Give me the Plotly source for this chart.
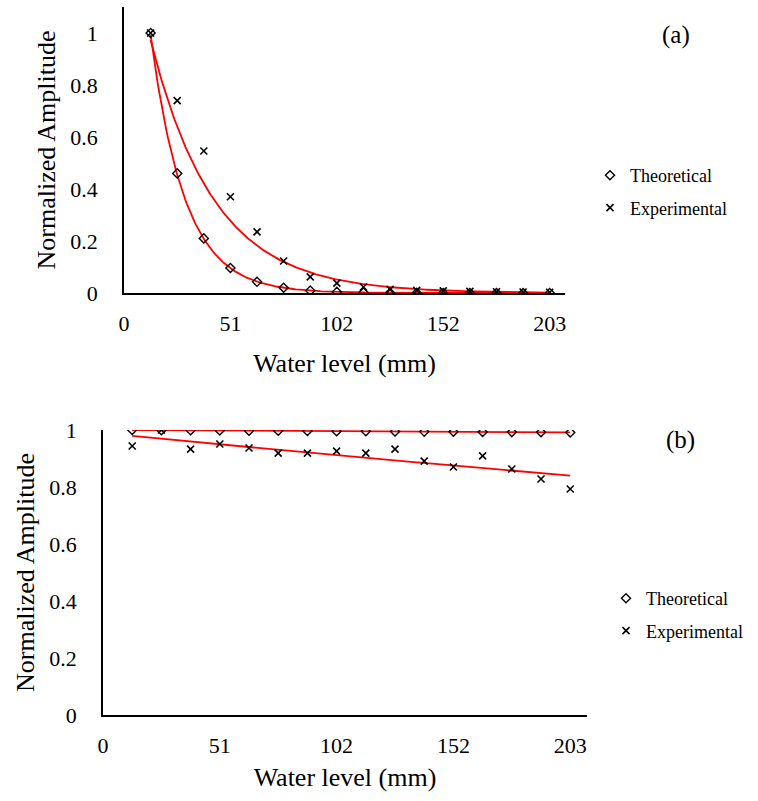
import numpy as np
import plotly.graph_objects as go

# Water level positions (mm) shared by both panels
water_level_mm = [12.7, 25.4, 38.1, 50.8, 63.5, 76.2, 88.9, 101.6,
                  114.3, 127.0, 139.7, 152.4, 165.1, 177.8, 190.5, 203.2]

# Panel (a)
theoretical_a = [1.0, 0.46, 0.21, 0.096, 0.043, 0.020, 0.0091, 0.0042,
                 0.0019, 0.00088, 0.00040, 0.00018, 0.000085, 0.000039,
                 0.000018, 0.0000082]
experimental_a = [1.0, 0.74, 0.546, 0.37, 0.235, 0.123, 0.062, 0.038,
                  0.023, 0.014, 0.010, 0.008, 0.006, 0.005, 0.004, 0.003]

# Panel (b)
theoretical_b = [1.0, 0.9995, 0.9989, 0.9983, 0.9977, 0.9972, 0.9966, 0.9960,
                 0.9954, 0.9949, 0.9943, 0.9937, 0.9931, 0.9926, 0.9920, 0.9914]
experimental_b = [0.944, 1.0, 0.933, 0.951, 0.937, 0.919, 0.919, 0.926,
                  0.919, 0.933, 0.891, 0.870, 0.909, 0.863, 0.828, 0.793]

x_tick_vals = [0, 50.8, 101.6, 152.4, 203.2]
x_tick_text = ["0", "51", "102", "152", "203"]
y_tick_vals = [0, 0.2, 0.4, 0.6, 0.8, 1.0]
y_tick_text = ["0", "0.2", "0.4", "0.6", "0.8", "1"]

SERIF = "Liberation Serif, Times New Roman, serif"
RED = "#ff0000"


def exp_trend(x, y, n=300):
    """Least-squares exponential trendline y = A*exp(B*x) over the data span."""
    x = np.asarray(x, dtype=float)
    y = np.asarray(y, dtype=float)
    b, a = np.polyfit(x, np.log(y), 1)
    xf = np.linspace(x.min(), x.max(), n)
    return xf, np.exp(a) * np.exp(b * xf)


fig = go.Figure()

panels = [
    ("x", "y", "legend", theoretical_a, experimental_a),
    ("x2", "y2", "legend2", theoretical_b, experimental_b),
]

for xa, ya, leg, theo, expt in panels:
    for series in (theo, expt):
        xf, yf = exp_trend(water_level_mm, series)
        fig.add_trace(go.Scatter(
            x=xf, y=yf, mode="lines", xaxis=xa, yaxis=ya,
            line=dict(color=RED, width=1.8), showlegend=False,
            hoverinfo="skip"))
    fig.add_trace(go.Scatter(
        x=water_level_mm, y=theo, mode="markers", name="Theoretical",
        xaxis=xa, yaxis=ya, legend=leg, legendgroup=leg + "t",
        marker=dict(symbol="diamond-open", size=7, color="black",
                    line=dict(width=1.4, color="black"))))
    fig.add_trace(go.Scatter(
        x=water_level_mm, y=expt, mode="markers", name="Experimental",
        xaxis=xa, yaxis=ya, legend=leg, legendgroup=leg + "e",
        marker=dict(symbol="x-thin", size=7, color="black",
                    line=dict(width=1.6, color="black"))))

W, H = 758, 801


def px_x(p):
    return p / W


def px_y(p):
    return 1 - p / H


def x_axis(title_standoff):
    return dict(
        range=[0, 210.5], tickvals=x_tick_vals, ticktext=x_tick_text,
        showgrid=False, zeroline=False, showline=True, linecolor="black",
        linewidth=1.5, ticks="", ticklabelstandoff=10, automargin=False,
        tickfont=dict(family=SERIF, size=22, color="black"),
        title=dict(text="Water level (mm)", standoff=title_standoff,
                   font=dict(family=SERIF, size=26, color="black")),
    )


y_common = dict(
    tickvals=y_tick_vals, ticktext=y_tick_text,
    showgrid=False, zeroline=False, showline=True, linecolor="black",
    linewidth=1.5, ticks="", ticklabelstandoff=20, automargin=False,
    tickfont=dict(family=SERIF, size=22, color="black"),
    title=dict(text="Normalized Amplitude", standoff=7,
               font=dict(family=SERIF, size=26, color="black")),
)

legend_common = dict(
    font=dict(family=SERIF, size=18, color="black"),
    bgcolor="rgba(0,0,0,0)", borderwidth=0, itemsizing="trace",
    traceorder="grouped", tracegroupgap=6, xanchor="left", yanchor="top",
)

fig.update_layout(
    width=W, height=H,
    margin=dict(l=0, r=0, t=0, b=0, autoexpand=False),
    paper_bgcolor="white", plot_bgcolor="white",
    xaxis=dict(x_axis(19), domain=[px_x(124), px_x(565)], anchor="y"),
    yaxis=dict(y_common, domain=[px_y(293), px_y(7)], range=[0, 1.1],
               anchor="x"),
    xaxis2=dict(x_axis(11), domain=[px_x(103), px_x(587)], anchor="y2"),
    yaxis2=dict(y_common, domain=[px_y(715), px_y(430)], range=[0, 1.0],
                anchor="x2"),
    legend=dict(legend_common, x=px_x(590), y=px_y(157)),
    legend2=dict(legend_common, x=px_x(606), y=px_y(580)),
    annotations=[
        dict(text="(a)", x=px_x(676), y=px_y(35), xref="paper", yref="paper",
             xanchor="center", yanchor="middle", showarrow=False,
             font=dict(family=SERIF, size=25, color="black")),
        dict(text="(b)", x=px_x(680), y=px_y(440), xref="paper", yref="paper",
             xanchor="center", yanchor="middle", showarrow=False,
             font=dict(family=SERIF, size=25, color="black")),
    ],
)

fig.write_html("out.html")
